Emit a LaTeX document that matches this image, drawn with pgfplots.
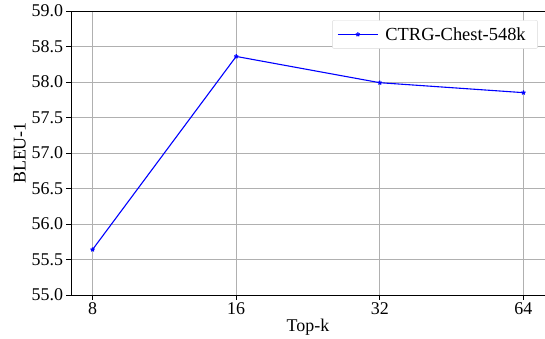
\documentclass[border=0pt]{standalone}
\usepackage{fontspec}
\setmainfont{Liberation Serif}
\usepackage{pgfplots}
\pgfplotsset{compat=1.18}
\begin{document}
\begin{tikzpicture}
\path[use as bounding box] (-71bp,-44bp) rectangle (474bp,295bp);
\begin{axis}[
  at={(0,0)}, anchor=south west,
  scale only axis,
  width=474bp, height=284bp,
  xmin=-0.15, xmax=3.15,
  ymin=55, ymax=59,
  xtick={0,1,2,3},
  xticklabels={8,16,32,64},
  ytick={55,55.5,...,59},
  /pgf/number format/assume math mode=true,
  yticklabel style={/pgf/number format/fixed, /pgf/number format/fixed zerofill, /pgf/number format/precision=1},
  tick label style={font=\fontsize{18}{20}\selectfont},
  label style={font=\fontsize{18}{20}\selectfont},
  xlabel={Top-k},
  ylabel={BLEU-1},
  xlabel style={yshift=3bp},
  ylabel style={yshift=-1bp},
  grid=major,
  grid style={color=black!31, line width=0.8bp},
  axis line style={line width=0.8bp},
  tick style={black, line width=0.8bp},
  tick align=outside,
  xtick pos=bottom, ytick pos=left,
  major tick length=4.5bp,
  legend style={at={(0.985,0.968)}, anchor=north east, draw=black!15, rounded corners=2bp,
    font=\fontsize{18.5}{21}\selectfont, inner xsep=5bp, inner ysep=5bp, row sep=0bp},
  legend cell align=left,
  legend image code/.code={\draw[#1] (0bp,0bp) -- (40bp,0bp); \draw[#1, only marks] plot coordinates {(20bp,0bp)};},
  legend style={nodes={inner xsep=7bp}},
]
\addplot[blue, line width=1.1bp, mark=star, mark size=2.2bp, mark options={line width=1.2bp}]
  coordinates {(0,55.64) (1,58.36) (2,57.99) (3,57.85)};
\addlegendentry{CTRG-Chest-548k}
\end{axis}
\end{tikzpicture}
\end{document}
